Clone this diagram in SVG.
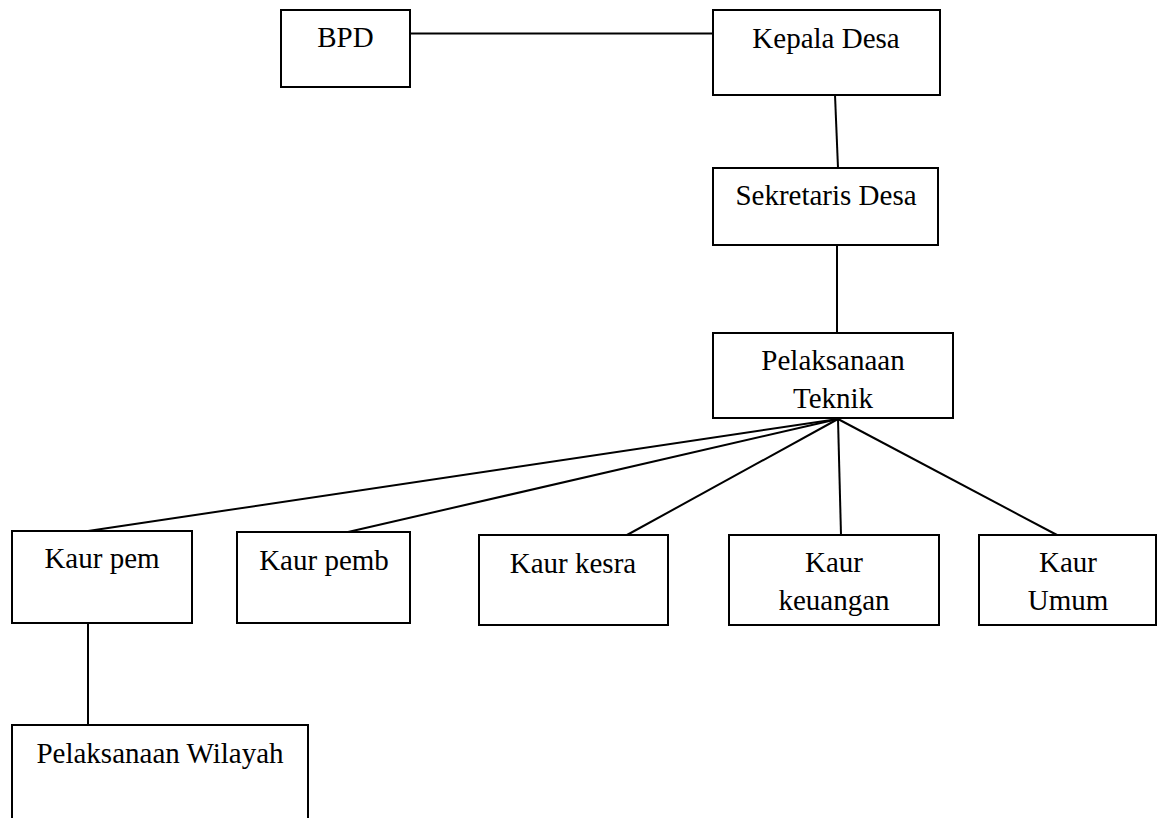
<svg xmlns="http://www.w3.org/2000/svg" width="1165" height="818" viewBox="0 0 1165 818">
<style>
.box{fill:#fff;stroke:#000;stroke-width:2}
.ln{stroke:#000;stroke-width:2;fill:none}
text{font-family:"Liberation Serif","Times New Roman",serif;font-size:29px;fill:#000;text-anchor:middle}
</style>
<rect width="1165" height="818" fill="#fff"/>
<g id="connectors">
<line class="ln" x1="410" y1="33.5" x2="713" y2="33.5"/>
<line class="ln" x1="835" y1="95" x2="838" y2="168"/>
<line class="ln" x1="837" y1="245" x2="837" y2="333"/>
<line class="ln" x1="838" y1="419" x2="88" y2="531"/>
<line class="ln" x1="838" y1="419" x2="348" y2="532"/>
<line class="ln" x1="838" y1="419" x2="627" y2="535"/>
<line class="ln" x1="838" y1="419" x2="841" y2="535"/>
<line class="ln" x1="838" y1="419" x2="1057" y2="535"/>
<line class="ln" x1="88" y1="623" x2="88" y2="725"/>
</g>
<g id="bpd"><rect class="box" x="281" y="10" width="129" height="77"/><text x="345.5" y="47">BPD</text></g>
<g id="kepala-desa"><rect class="box" x="713" y="10" width="227" height="85"/><text x="826" y="48">Kepala Desa</text></g>
<g id="sekretaris-desa"><rect class="box" x="713" y="168" width="225" height="77"/><text x="826" y="205">Sekretaris Desa</text></g>
<g id="pelaksanaan-teknik"><rect class="box" x="713" y="333" width="240" height="85"/><text x="833" y="370">Pelaksanaan</text><text x="833" y="408">Teknik</text></g>
<g id="kaur-pem"><rect class="box" x="12" y="531" width="180" height="92"/><text x="102" y="568">Kaur pem</text></g>
<g id="kaur-pemb"><rect class="box" x="237" y="532" width="173" height="91"/><text x="324" y="570">Kaur pemb</text></g>
<g id="kaur-kesra"><rect class="box" x="479" y="535" width="189" height="90"/><text x="573" y="573">Kaur kesra</text></g>
<g id="kaur-keuangan"><rect class="box" x="729" y="535" width="210" height="90"/><text x="834" y="572">Kaur</text><text x="834" y="610">keuangan</text></g>
<g id="kaur-umum"><rect class="box" x="979" y="535" width="177" height="90"/><text x="1068" y="572">Kaur</text><text x="1068" y="610">Umum</text></g>
<g id="pelaksanaan-wilayah"><path class="ln" d="M12 820 V725 H308 V820"/><text x="160" y="763">Pelaksanaan Wilayah</text></g>
</svg>
